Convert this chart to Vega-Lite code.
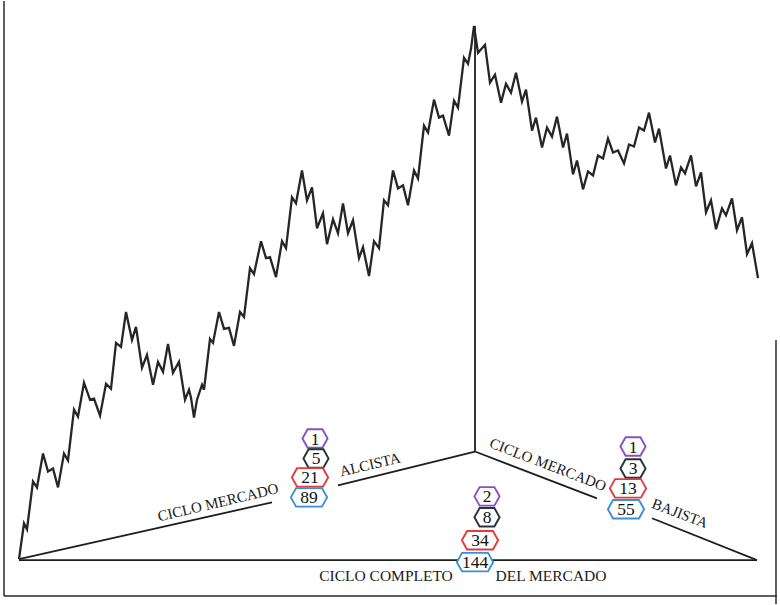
{
  "$schema": "https://vega.github.io/schema/vega-lite/v6.json",
  "width": 780,
  "height": 605,
  "autosize": {"type": "fit", "contains": "padding"},
  "padding": 0,
  "background": "white",
  "config": {"view": {"stroke": null}},
  "datasets": {
    "frame": [
      {"x": 4, "y": 0, "x2": 4, "y2": 597},
      {"x": 4, "y": 597, "x2": 777, "y2": 597},
      {"x": 776, "y": 340, "x2": 776, "y2": 605}
    ],
    "tri": [
      {"x": 19, "y": 561, "x2": 757, "y2": 561},
      {"x": 19, "y": 560, "x2": 272, "y2": 503},
      {"x": 338, "y": 486, "x2": 475, "y2": 452},
      {"x": 475, "y": 452, "x2": 597, "y2": 499},
      {"x": 652, "y": 519, "x2": 757, "y2": 561},
      {"x": 475, "y": 25, "x2": 475, "y2": 452}
    ],
    "price": [
      {"x": 19, "y": 560}, {"x": 24, "y": 524}, {"x": 27, "y": 530}, {"x": 33, "y": 482}, {"x": 37, "y": 488},
      {"x": 43, "y": 454}, {"x": 48, "y": 472}, {"x": 53, "y": 469}, {"x": 58, "y": 488}, {"x": 64, "y": 454},
      {"x": 68, "y": 461}, {"x": 74, "y": 410}, {"x": 78, "y": 417}, {"x": 84, "y": 383}, {"x": 90, "y": 400},
      {"x": 94, "y": 399}, {"x": 100, "y": 416}, {"x": 106, "y": 384}, {"x": 111, "y": 389}, {"x": 116, "y": 343},
      {"x": 121, "y": 347}, {"x": 126, "y": 312}, {"x": 132, "y": 340}, {"x": 136, "y": 327}, {"x": 142, "y": 368},
      {"x": 147, "y": 355}, {"x": 153, "y": 385}, {"x": 158, "y": 362}, {"x": 163, "y": 372}, {"x": 168, "y": 344},
      {"x": 173, "y": 373}, {"x": 179, "y": 362}, {"x": 185, "y": 400}, {"x": 189, "y": 390}, {"x": 191, "y": 398},
      {"x": 194, "y": 418}, {"x": 197, "y": 400}, {"x": 202, "y": 385}, {"x": 204, "y": 390}, {"x": 210, "y": 339},
      {"x": 213, "y": 343}, {"x": 219, "y": 312}, {"x": 224, "y": 329}, {"x": 229, "y": 328}, {"x": 234, "y": 346},
      {"x": 240, "y": 312}, {"x": 244, "y": 317}, {"x": 250, "y": 268}, {"x": 254, "y": 274}, {"x": 261, "y": 241},
      {"x": 266, "y": 258}, {"x": 270, "y": 257}, {"x": 276, "y": 277}, {"x": 282, "y": 241}, {"x": 286, "y": 248},
      {"x": 292, "y": 197}, {"x": 296, "y": 203}, {"x": 302, "y": 170}, {"x": 307, "y": 200}, {"x": 312, "y": 187},
      {"x": 317, "y": 228}, {"x": 323, "y": 213}, {"x": 327, "y": 244}, {"x": 333, "y": 219}, {"x": 338, "y": 233},
      {"x": 343, "y": 203}, {"x": 348, "y": 233}, {"x": 353, "y": 220}, {"x": 359, "y": 258}, {"x": 363, "y": 247},
      {"x": 369, "y": 276}, {"x": 374, "y": 241}, {"x": 379, "y": 248}, {"x": 384, "y": 200}, {"x": 388, "y": 205},
      {"x": 393, "y": 170}, {"x": 398, "y": 188}, {"x": 403, "y": 185}, {"x": 408, "y": 205}, {"x": 414, "y": 170},
      {"x": 418, "y": 178}, {"x": 424, "y": 125}, {"x": 428, "y": 132}, {"x": 434, "y": 99}, {"x": 439, "y": 117},
      {"x": 443, "y": 115}, {"x": 449, "y": 135}, {"x": 454, "y": 100}, {"x": 458, "y": 107}, {"x": 464, "y": 57},
      {"x": 468, "y": 63}, {"x": 471, "y": 48}, {"x": 474, "y": 25}, {"x": 478, "y": 52}, {"x": 485, "y": 44},
      {"x": 490, "y": 82}, {"x": 495, "y": 74}, {"x": 501, "y": 102}, {"x": 506, "y": 83}, {"x": 511, "y": 92},
      {"x": 516, "y": 72}, {"x": 522, "y": 101}, {"x": 526, "y": 89}, {"x": 532, "y": 130}, {"x": 536, "y": 117},
      {"x": 542, "y": 147}, {"x": 547, "y": 127}, {"x": 552, "y": 136}, {"x": 557, "y": 116}, {"x": 563, "y": 147},
      {"x": 567, "y": 133}, {"x": 573, "y": 174}, {"x": 577, "y": 160}, {"x": 583, "y": 189}, {"x": 588, "y": 171},
      {"x": 593, "y": 175}, {"x": 598, "y": 155}, {"x": 603, "y": 158}, {"x": 608, "y": 138}, {"x": 613, "y": 152},
      {"x": 618, "y": 150}, {"x": 624, "y": 163}, {"x": 629, "y": 144}, {"x": 634, "y": 146}, {"x": 639, "y": 127},
      {"x": 644, "y": 130}, {"x": 649, "y": 112}, {"x": 655, "y": 142}, {"x": 659, "y": 128}, {"x": 666, "y": 168},
      {"x": 670, "y": 155}, {"x": 676, "y": 185}, {"x": 681, "y": 167}, {"x": 685, "y": 173}, {"x": 691, "y": 155},
      {"x": 696, "y": 186}, {"x": 701, "y": 172}, {"x": 706, "y": 212}, {"x": 711, "y": 200}, {"x": 716, "y": 229},
      {"x": 722, "y": 208}, {"x": 726, "y": 215}, {"x": 732, "y": 198}, {"x": 737, "y": 230}, {"x": 742, "y": 217},
      {"x": 747, "y": 254}, {"x": 752, "y": 243}, {"x": 758, "y": 278}
    ],
    "hex": [
      {"x": 315, "y": 439, "label": "1", "deg": "a", "w": "narrow"},
      {"x": 316, "y": 459, "label": "5", "deg": "b", "w": "narrow"},
      {"x": 310, "y": 478, "label": "21", "deg": "c", "w": "wide"},
      {"x": 309, "y": 498, "label": "89", "deg": "d", "w": "wide"},
      {"x": 487, "y": 497, "label": "2", "deg": "a", "w": "narrow"},
      {"x": 487, "y": 518, "label": "8", "deg": "b", "w": "narrow"},
      {"x": 480, "y": 541, "label": "34", "deg": "c", "w": "wide"},
      {"x": 475, "y": 563, "label": "144", "deg": "d", "w": "wide"},
      {"x": 633, "y": 447, "label": "1", "deg": "a", "w": "narrow"},
      {"x": 633, "y": 469, "label": "3", "deg": "b", "w": "narrow"},
      {"x": 628, "y": 489, "label": "13", "deg": "c", "w": "wide"},
      {"x": 626, "y": 510, "label": "55", "deg": "d", "w": "wide"}
    ],
    "labLeft": [
      {"x": 218, "y": 503, "text": "CICLO MERCADO"},
      {"x": 370, "y": 465, "text": "ALCISTA"}
    ],
    "labRight": [
      {"x": 548, "y": 465, "text": "CICLO MERCADO"},
      {"x": 680, "y": 514, "text": "BAJISTA"}
    ],
    "labBottom": [
      {"x": 386, "y": 577, "text": "CICLO COMPLETO"},
      {"x": 551, "y": 577, "text": "DEL MERCADO"}
    ]
  },
  "layer": [
    {
      "data": {"name": "frame"},
      "mark": {"type": "rule", "color": "#2a2a2a", "strokeWidth": 1.5},
      "encoding": {
        "x": {"field": "x", "type": "quantitative", "scale": {"domain": [0, 780], "nice": false, "zero": false}, "axis": null},
        "y": {"field": "y", "type": "quantitative", "scale": {"domain": [0, 605], "nice": false, "zero": false, "reverse": true}, "axis": null},
        "x2": {"field": "x2"},
        "y2": {"field": "y2"}
      }
    },
    {
      "data": {"name": "tri"},
      "mark": {"type": "rule", "color": "#1e1e1e", "strokeWidth": 1.8},
      "encoding": {
        "x": {"field": "x", "type": "quantitative", "scale": {"domain": [0, 780], "nice": false, "zero": false}, "axis": null},
        "y": {"field": "y", "type": "quantitative", "scale": {"domain": [0, 605], "nice": false, "zero": false, "reverse": true}, "axis": null},
        "x2": {"field": "x2"},
        "y2": {"field": "y2"}
      }
    },
    {
      "data": {"name": "price"},
      "mark": {"type": "line", "color": "#262626", "strokeWidth": 2.3, "strokeJoin": "miter"},
      "encoding": {
        "x": {"field": "x", "type": "quantitative", "scale": {"domain": [0, 780], "nice": false, "zero": false}, "axis": null},
        "y": {"field": "y", "type": "quantitative", "scale": {"domain": [0, 605], "nice": false, "zero": false, "reverse": true}, "axis": null}
      }
    },
    {
      "data": {"name": "hex"},
      "mark": {"type": "point", "filled": false, "fill": "white", "fillOpacity": 1, "strokeWidth": 1.9, "size": 1369, "opacity": 1},
      "encoding": {
        "x": {"field": "x", "type": "quantitative", "scale": {"domain": [0, 780], "nice": false, "zero": false}, "axis": null},
        "y": {"field": "y", "type": "quantitative", "scale": {"domain": [0, 605], "nice": false, "zero": false, "reverse": true}, "axis": null},
        "shape": {"field": "w", "type": "nominal", "legend": null, "scale": {"domain": ["narrow", "wide"], "range": ["M-0.68,0L-0.4,-0.5L0.4,-0.5L0.68,0L0.4,0.5L-0.4,0.5Z", "M-0.98,0L-0.7,-0.5L0.7,-0.5L0.98,0L0.7,0.5L-0.7,0.5Z"]}},
        "stroke": {"field": "deg", "type": "nominal", "legend": null, "scale": {"domain": ["a", "b", "c", "d"], "range": ["#8a4fc0", "#25343a", "#e23a3f", "#3b8fd8"]}}
      }
    },
    {
      "data": {"name": "hex"},
      "mark": {"type": "text", "font": "Liberation Serif", "fontSize": 17.5, "color": "#111", "align": "center", "baseline": "middle", "dy": 1},
      "encoding": {
        "x": {"field": "x", "type": "quantitative", "scale": {"domain": [0, 780], "nice": false, "zero": false}, "axis": null},
        "y": {"field": "y", "type": "quantitative", "scale": {"domain": [0, 605], "nice": false, "zero": false, "reverse": true}, "axis": null},
        "text": {"field": "label"}
      }
    },
    {
      "data": {"name": "labLeft"},
      "mark": {"type": "text", "font": "Liberation Serif", "fontSize": 15, "color": "#1a1a1a", "align": "center", "baseline": "middle", "angle": -13.4},
      "encoding": {
        "x": {"field": "x", "type": "quantitative", "scale": {"domain": [0, 780], "nice": false, "zero": false}, "axis": null},
        "y": {"field": "y", "type": "quantitative", "scale": {"domain": [0, 605], "nice": false, "zero": false, "reverse": true}, "axis": null},
        "text": {"field": "text"}
      }
    },
    {
      "data": {"name": "labRight"},
      "mark": {"type": "text", "font": "Liberation Serif", "fontSize": 15, "color": "#1a1a1a", "align": "center", "baseline": "middle", "angle": 21},
      "encoding": {
        "x": {"field": "x", "type": "quantitative", "scale": {"domain": [0, 780], "nice": false, "zero": false}, "axis": null},
        "y": {"field": "y", "type": "quantitative", "scale": {"domain": [0, 605], "nice": false, "zero": false, "reverse": true}, "axis": null},
        "text": {"field": "text"}
      }
    },
    {
      "data": {"name": "labBottom"},
      "mark": {"type": "text", "font": "Liberation Serif", "fontSize": 15.5, "color": "#1a1a1a", "align": "center", "baseline": "middle"},
      "encoding": {
        "x": {"field": "x", "type": "quantitative", "scale": {"domain": [0, 780], "nice": false, "zero": false}, "axis": null},
        "y": {"field": "y", "type": "quantitative", "scale": {"domain": [0, 605], "nice": false, "zero": false, "reverse": true}, "axis": null},
        "text": {"field": "text"}
      }
    }
  ]
}
